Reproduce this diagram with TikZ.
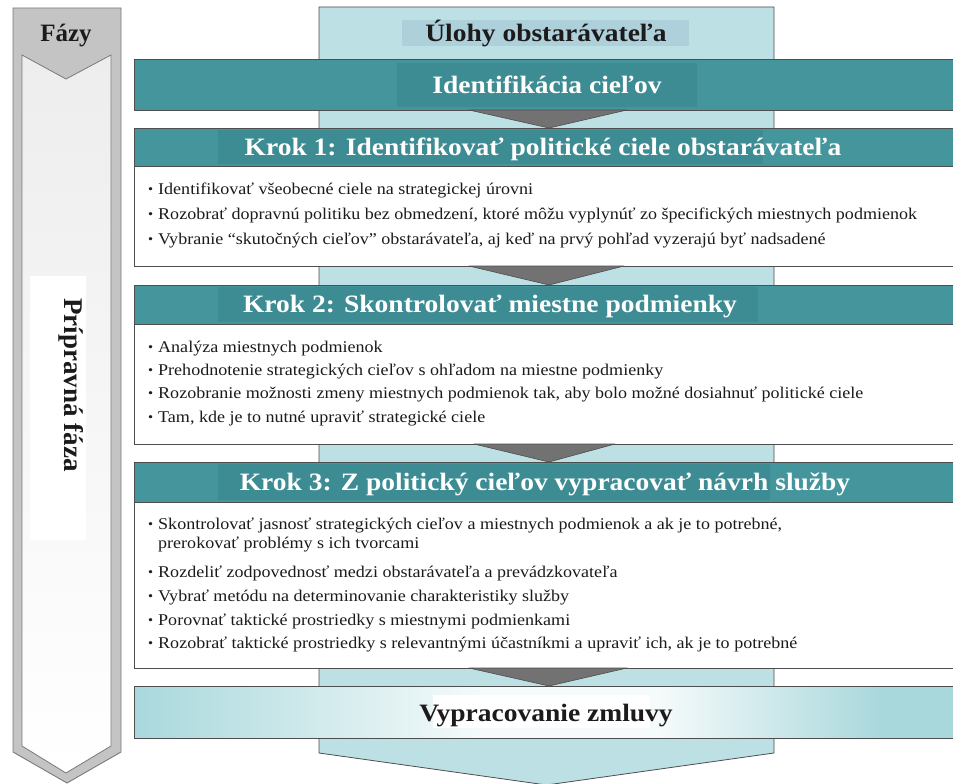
\documentclass[tikz,border=0pt]{standalone}
\usepackage{fontspec}
\setmainfont{Liberation Serif}[FakeStretch=1.1]
\newfontfamily\phasefont{Liberation Serif}
\usetikzlibrary{calc}

\definecolor{tealband}{HTML}{44959C}
\definecolor{tealdark}{HTML}{3D8C93}
\definecolor{pale}{HTML}{BDE0E4}
\definecolor{palehdr}{HTML}{AED0DA}
\definecolor{vblue}{HTML}{A9D8DC}
\definecolor{edge}{HTML}{4E4E4E}
\definecolor{phasefill}{HTML}{C4C4C4}
\definecolor{phaseedge}{HTML}{7A7A7A}
\definecolor{trigray}{HTML}{727272}
\definecolor{ink}{HTML}{1C1A1A}

\newcommand\bulletmark{\makebox[10pt][l]{\raisebox{0.6pt}{\fontsize{13}{13}\selectfont •}}}

\tikzset{
  band/.style={draw=edge, line width=0.8pt, anchor=north west, minimum width=830pt,
    inner sep=0pt, outer sep=0pt},
  hdrtext/.style={text=white, font=\bfseries\fontsize{25}{25}\selectfont, anchor=base, inner sep=0pt},
  darktext/.style={text=ink, font=\bfseries\fontsize{25}{25}\selectfont, anchor=base, inner sep=0pt},
  bodyline/.style={text=ink, font=\fontsize{16.4}{18}\selectfont, anchor=base west, inner sep=0pt},
  tri/.style={fill=trigray, draw=edge, line width=0.6pt, line join=round},
}

\begin{document}
\begin{tikzpicture}[x=1pt, y=-1pt]
\useasboundingbox (0,0) rectangle (953,784);
\clip (0,0) rectangle (953,784);

% ---- phase column on the left ----
\draw[draw=phaseedge, fill=phasefill, line width=0.9pt]
  (13,8) -- (121,8) -- (121,752) -- (67,783) -- (13,752) -- cycle;
\shade[top color=black!7, bottom color=white, draw=phaseedge, line width=0.8pt]
  (22,55) -- (66,79) -- (111,55) -- (111,746) -- (66,773) -- (22,746) -- cycle;
\node[text=ink, font=\phasefont\bfseries\fontsize{25}{25}\selectfont, anchor=base, inner sep=0pt]
  (fazy) at (66,42) {Fázy};
\fill[white] (30,276) rectangle (86,540);
\node[text=ink, font=\phasefont\bfseries\fontsize{27}{27}\selectfont, rotate=-90, anchor=base, inner sep=0pt]
  (phase) at (64,385) {Prípravná fáza};

% ---- main column of the contracting authority ----
\draw[draw=edge, fill=pale, line width=0.8pt]
  (319,7) -- (774,7) -- (774,753) -- (546.5,785) -- (319,753) -- cycle;
\node[fill=palehdr, minimum width=287pt, minimum height=26pt, inner sep=0pt] (ulohyBg) at (545.5,33) {};
\node[darktext] (ulohy) at (546,41.5) {Úlohy obstarávateľa};

% ---- goal identification ----
\node[band, fill=tealband, minimum height=51pt] (ident) at (134,59) {};
\node[fill=tealdark, minimum width=300pt, minimum height=44pt, inner sep=0pt] (identBg) at (547,85) {};
\node[hdrtext] (identT) at (547,93.5) {Identifikácia cieľov};

% ---- step 1 ----
\node[band, fill=white, minimum height=100pt] (k1b) at (134,166) {};
\node[band, fill=tealband, minimum height=38pt] (k1h) at (134,128) {};
\fill[tealdark] (218,130) rectangle (763,164);
\node[hdrtext] (k1t) at (543,155) {Krok 1: Identifikovať politické ciele obstarávateľa};
\node[bodyline] (k1a) at (148,194.5) {\bulletmark Identifikovať všeobecné ciele na strategickej úrovni};
\node[bodyline] (k1c) at (148,219.5) {\bulletmark Rozobrať dopravnú politiku bez obmedzení, ktoré môžu vyplynúť zo špecifických miestnych podmienok};
\node[bodyline] (k1d) at (148,244.5) {\bulletmark Vybranie “skutočných cieľov” obstarávateľa, aj keď na prvý pohľad vyzerajú byť nadsadené};

% ---- step 2 ----
\node[band, fill=white, minimum height=120pt] (k2b) at (134,324) {};
\node[band, fill=tealband, minimum height=39pt] (k2h) at (134,285) {};
\fill[tealdark] (218,287) rectangle (758,322);
\node[hdrtext] (k2t) at (490,312.5) {Krok 2: Skontrolovať miestne podmienky};
\node[bodyline] (k2a) at (148,352.5) {\bulletmark Analýza miestnych podmienok};
\node[bodyline] (k2c) at (148,375.5) {\bulletmark Prehodnotenie strategických cieľov s ohľadom na miestne podmienky};
\node[bodyline] (k2d) at (148,398.5) {\bulletmark Rozobranie možnosti zmeny miestnych podmienok tak, aby bolo možné dosiahnuť politické ciele};
\node[bodyline] (k2e) at (148,422.5) {\bulletmark Tam, kde je to nutné upraviť strategické ciele};

% ---- step 3 ----
\node[band, fill=white, minimum height=166pt] (k3b) at (134,502) {};
\node[band, fill=tealband, minimum height=40pt] (k3h) at (134,462) {};
\fill[tealdark] (218,464) rectangle (770,500);
\node[hdrtext] (k3t) at (545,490) {Krok 3: Z politický cieľov vypracovať návrh služby};
\node[bodyline] (k3a) at (148,529.5) {\bulletmark Skontrolovať jasnosť strategických cieľov a miestnych podmienok a ak je to potrebné,};
\node[bodyline] (k3a2) at (158,548.5) {prerokovať problémy s ich tvorcami};
\node[bodyline] (k3c) at (148,577.5) {\bulletmark Rozdeliť zodpovednosť medzi obstarávateľa a prevádzkovateľa};
\node[bodyline] (k3d) at (148,601.5) {\bulletmark Vybrať metódu na determinovanie charakteristiky služby};
\node[bodyline] (k3e) at (148,625.5) {\bulletmark Porovnať taktické prostriedky s miestnymi podmienkami};
\node[bodyline] (k3f) at (148,648.5) {\bulletmark Rozobrať taktické prostriedky s relevantnými účastníkmi a upraviť ich, ak je to potrebné};

% ---- contract drafting ----
\node[band, draw=none, minimum height=52pt] (vyp) at (134,686) {};
\shade[left color=vblue, right color=vblue!12] (134,686) rectangle (480,738);
\fill[vblue!12] (480,686) rectangle (660,738);
\shade[left color=vblue!12, right color=vblue] (660,686) rectangle (880,738);
\fill[vblue] (880,686) rectangle (964,738);
\fill[white] (433,695) rectangle (650,728);
\draw[edge, line width=0.8pt] (vyp.north west) rectangle (vyp.south east);
\node[darktext] (vypT) at (546,721) {Vypracovanie zmluvy};

% ---- arrows between stages ----
\draw[tri] ($(ident.south)+(-80,0)$) -- ($(ident.south)+(78,0)$) -- (k1h.north) -- cycle;
\draw[tri] ($(k1b.south)+(-80,0)$) -- ($(k1b.south)+(75,0)$) -- (k2h.north) -- cycle;
\draw[tri] ($(k2b.south)+(-75,0)$) -- ($(k2b.south)+(66,0)$) -- (k3h.north) -- cycle;
\draw[tri] ($(k3b.south)+(-80,0)$) -- ($(k3b.south)+(78,0)$) -- (vyp.north) -- cycle;

\end{tikzpicture}
\end{document}
